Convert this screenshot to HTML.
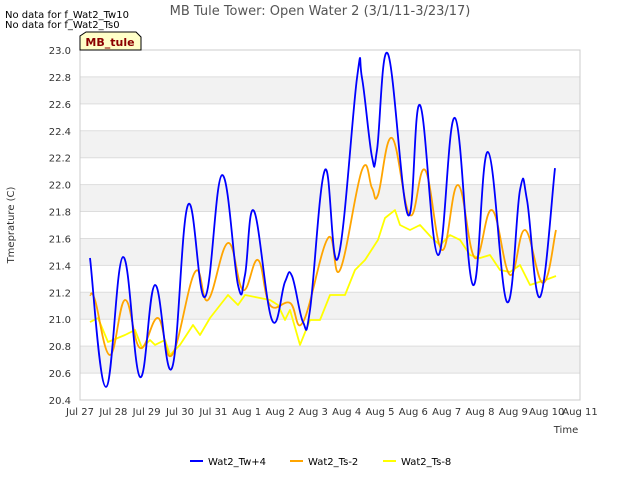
<!DOCTYPE html>
<html><head><meta charset="utf-8"><style>
body{margin:0;background:#fff;font-family:"Liberation Sans","DejaVu Sans",sans-serif}
</style></head><body>
<svg width="640" height="480" xmlns="http://www.w3.org/2000/svg" font-family="DejaVu Sans, Liberation Sans, sans-serif">
<rect width="640" height="480" fill="#fff"/>
<g id="bands"></g>
<g id="grid"></g>
<rect x="80" y="50" width="500" height="350" fill="none" stroke="#ccc"/>
<g id="yt" font-size="10" fill="#333" text-anchor="end"></g>
<g id="xt" font-size="10" fill="#333" text-anchor="middle"></g>
<g id="series"></g>
<text x="320" y="15" font-size="13" fill="#555" text-anchor="middle">MB Tule Tower: Open Water 2 (3/1/11-3/23/17)</text>
<text x="5" y="18" font-size="10" fill="#000">No data for f_Wat2_Tw10</text>
<text x="5" y="28" font-size="10" fill="#000">No data for f_Wat2_Ts0</text>
<path d="M80,50 L80,36 L86,32 L136,32 L141,37 L141,50 Z" fill="#ffffc8" stroke="#000"/>
<text x="110" y="46" font-size="11" font-weight="bold" fill="#8b0000" text-anchor="middle">MB_tule</text>
<text x="14" y="225" font-size="10" fill="#333" text-anchor="middle" transform="rotate(-90 14 225)">Tmeprature (C)</text>
<text x="566" y="433" font-size="10" fill="#333" text-anchor="middle">Time</text>
<g font-size="10" fill="#000">
<g><line x1="190" y1="461" x2="203" y2="461" stroke="#0000ff" stroke-width="2"/><text x="208" y="465">Wat2_Tw+4</text></g>
<g><line x1="290" y1="461" x2="303" y2="461" stroke="#ffa500" stroke-width="2"/><text x="308" y="465">Wat2_Ts-2</text></g>
<g><line x1="383" y1="461" x2="396" y2="461" stroke="#ffff00" stroke-width="2"/><text x="401" y="465">Wat2_Ts-8</text></g>
</g>
</svg>
<script>
const yTicks=[20.4,20.6,20.8,21.0,21.2,21.4,21.6,21.8,22.0,22.2,22.4,22.6,22.8,23.0];
const xTickLabels=["Jul 27","Jul 28","Jul 29","Jul 30","Jul 31","Aug 1","Aug 2","Aug 3","Aug 4","Aug 5","Aug 6","Aug 7","Aug 8","Aug 9","Aug 10","Aug 11"];
const bluePx=[[90,258],[106,387],[123,257],[140,377],[155,285],[172,368],[188,205],[205,297],[222,175],[238,285],[245,275],[254,211],[272,320],[285,282],[292,276],[303,322],[310,310],[325,170],[338,258],[357,78],[362,78],[372,157],[377,150],[388,54],[408,215],[420,105],[438,255],[455,118],[473,285],[488,152],[507,302],[520,190],[527,200],[540,297],[555,168]];
const orangePx=[[90,295],[95,300],[110,355],[125,300],[140,348],[158,318],[172,355],[195,272],[208,300],[228,243],[243,290],[258,260],[270,305],[290,303],[303,322],[328,238],[340,270],[362,170],[372,188],[378,195],[392,138],[410,215],[425,170],[442,250],[458,185],[475,258],[492,210],[510,275],[525,230],[543,283],[556,230]];
const yellowPx=[[90,322],[98,318],[108,342],[125,335],[135,330],[142,348],[150,340],[155,345],[165,340],[170,355],[180,345],[193,325],[200,335],[210,318],[228,295],[238,305],[245,295],[260,298],[270,300],[278,305],[285,320],[290,310],[300,345],[310,320],[320,320],[330,295],[345,295],[355,270],[365,260],[378,240],[385,218],[395,210],[400,225],[410,230],[420,225],[432,238],[440,245],[450,235],[460,240],[470,255],[480,258],[490,255],[500,270],[510,272],[520,265],[530,285],[545,280],[556,276]];
const toData=a=>a.map(p=>[+((p[0]-80)/33.333).toFixed(2),+(23-(p[1]-50)/134.615).toFixed(3)]);
const blueDays=toData(bluePx).map(p=>p[0]), blueVals=toData(bluePx).map(p=>p[1]);
const orangeDays=toData(orangePx).map(p=>p[0]), orangeVals=toData(orangePx).map(p=>p[1]);
const yellowDays=toData(yellowPx).map(p=>p[0]), yellowVals=toData(yellowPx).map(p=>p[1]);
const X=d=>80+d*500/15, Y=v=>400-(v-20.4)*350/2.6;
const NS="http://www.w3.org/2000/svg";
const mk=(t,a,p)=>{const e=document.createElementNS(NS,t);for(const k in a)e.setAttribute(k,a[k]);p.appendChild(e);return e;};
const bands=document.getElementById('bands'),grid=document.getElementById('grid'),yt=document.getElementById('yt'),xt=document.getElementById('xt'),ser=document.getElementById('series');
for(let i=0;i<yTicks.length-1;i++){if(i%2==1){const r=mk('rect',{x:80,y:Y(yTicks[i+1]),width:500,height:Y(yTicks[i])-Y(yTicks[i+1]),fill:'#f2f2f2'},bands);

}}
yTicks.forEach(v=>{const l=mk('line',{x1:80,x2:580,y1:Y(v),y2:Y(v),stroke:'#ddd'},grid);


const t=mk('text',{x:71,y:Y(v)+4},yt);t.textContent=v.toFixed(1);

});
xTickLabels.forEach((s,i)=>{const t=mk('text',{x:X(i),y:415},xt);t.textContent=s;

});
function line(days,vals,color,name,smooth){
const P=days.map((x,i)=>[X(x),Y(vals[i])]);
let d='M'+P[0][0].toFixed(1)+','+P[0][1].toFixed(1);
for(let i=0;i<P.length-1;i++){
if(!smooth){d+=' L'+P[i+1][0].toFixed(1)+','+P[i+1][1].toFixed(1);continue;}
const p0=P[Math.max(0,i-1)],p1=P[i],p2=P[i+1],p3=P[Math.min(P.length-1,i+2)];
const t=0.2;
const c1=[p1[0]+(p2[0]-p0[0])*t,p1[1]+(p2[1]-p0[1])*t];
const c2=[p2[0]-(p3[0]-p1[0])*t,p2[1]-(p3[1]-p1[1])*t];
d+=' C'+c1[0].toFixed(1)+','+c1[1].toFixed(1)+' '+c2[0].toFixed(1)+','+c2[1].toFixed(1)+' '+p2[0].toFixed(1)+','+p2[1].toFixed(1);}
const p=mk('path',{d:d,fill:'none',stroke:color,'stroke-width':1.8,'stroke-linejoin':'round'},ser);

}
line(yellowDays,yellowVals,'#ffff00','series-wat2-ts8',false);
line(orangeDays,orangeVals,'#ffa500','series-wat2-ts2',true);
line(blueDays,blueVals,'#0000ff','series-wat2-tw4',true);
</script>
</body></html>
